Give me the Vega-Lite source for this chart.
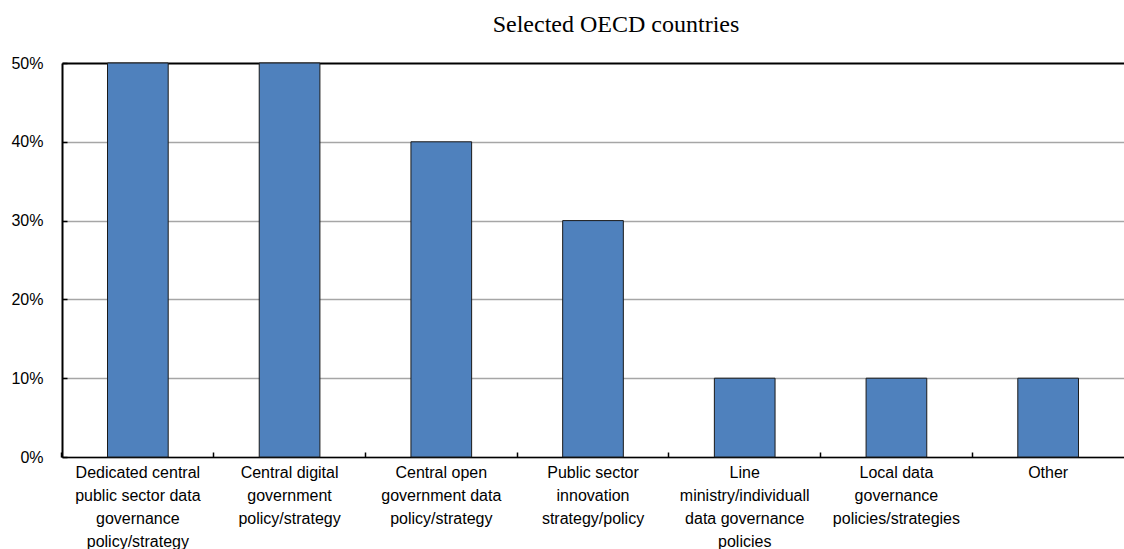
{
  "$schema": "https://vega.github.io/schema/vega-lite/v6.json",
  "width": 1062,
  "height": 394,
  "autosize": {"type": "none"},
  "padding": {"left": 62, "top": 63, "right": 0, "bottom": 92},
  "background": "white",
  "title": {
    "text": "Selected OECD countries",
    "font": "Liberation Serif",
    "fontSize": 24,
    "fontWeight": "normal",
    "color": "#000000",
    "anchor": "middle",
    "dx": 23,
    "offset": 18
  },
  "config": {
    "view": {"stroke": null},
    "font": "Liberation Sans"
  },
  "data": {
    "values": [
      {"category": "Dedicated central|public sector data|governance|policy/strategy", "share": 0.5},
      {"category": "Central digital|government|policy/strategy", "share": 0.5},
      {"category": "Central open|government data|policy/strategy", "share": 0.4},
      {"category": "Public sector|innovation|strategy/policy", "share": 0.3},
      {"category": "Line|ministry/individuall|data governance|policies", "share": 0.1},
      {"category": "Local data|governance|policies/strategies", "share": 0.1},
      {"category": "Other", "share": 0.1}
    ]
  },
  "mark": {"type": "bar", "color": "#4F81BD", "stroke": "#1a1a1a", "strokeWidth": 1},
  "encoding": {
    "x": {
      "field": "category",
      "type": "nominal",
      "sort": null,
      "scale": {"paddingInner": 0.6, "paddingOuter": 0.3},
      "axis": {
        "title": null,
        "labelAngle": 0,
        "labelExpr": "split(datum.label, '|')",
        "labelFont": "Liberation Sans",
        "labelFontSize": 16,
        "labelColor": "#000000",
        "labelLineHeight": 23,
        "labelPadding": 12,
        "labelLimit": 220,
        "domainColor": "#000000",
        "domainWidth": 1.5,
        "bandPosition": -0.75,
        "tickColor": "#000000",
        "tickSize": -5,
        "tickWidth": 1.5
      }
    },
    "y": {
      "field": "share",
      "type": "quantitative",
      "scale": {"domain": [0, 0.5], "nice": false},
      "axis": {
        "title": null,
        "format": ".0%",
        "values": [0, 0.1, 0.2, 0.3, 0.4, 0.5],
        "labelFont": "Liberation Sans",
        "labelFontSize": 16,
        "labelColor": "#000000",
        "labelPadding": 24,
        "domainColor": "#000000",
        "domainWidth": 2,
        "tickColor": "#000000",
        "tickSize": -5,
        "tickWidth": 1.5,
        "grid": true,
        "gridColor": {"condition": {"test": "datum.value >= 0.5", "value": "#000000"}, "value": "#A6A6A6"},
        "gridWidth": {"condition": {"test": "datum.value >= 0.5", "value": 2}, "value": 1.5}
      }
    }
  }
}
